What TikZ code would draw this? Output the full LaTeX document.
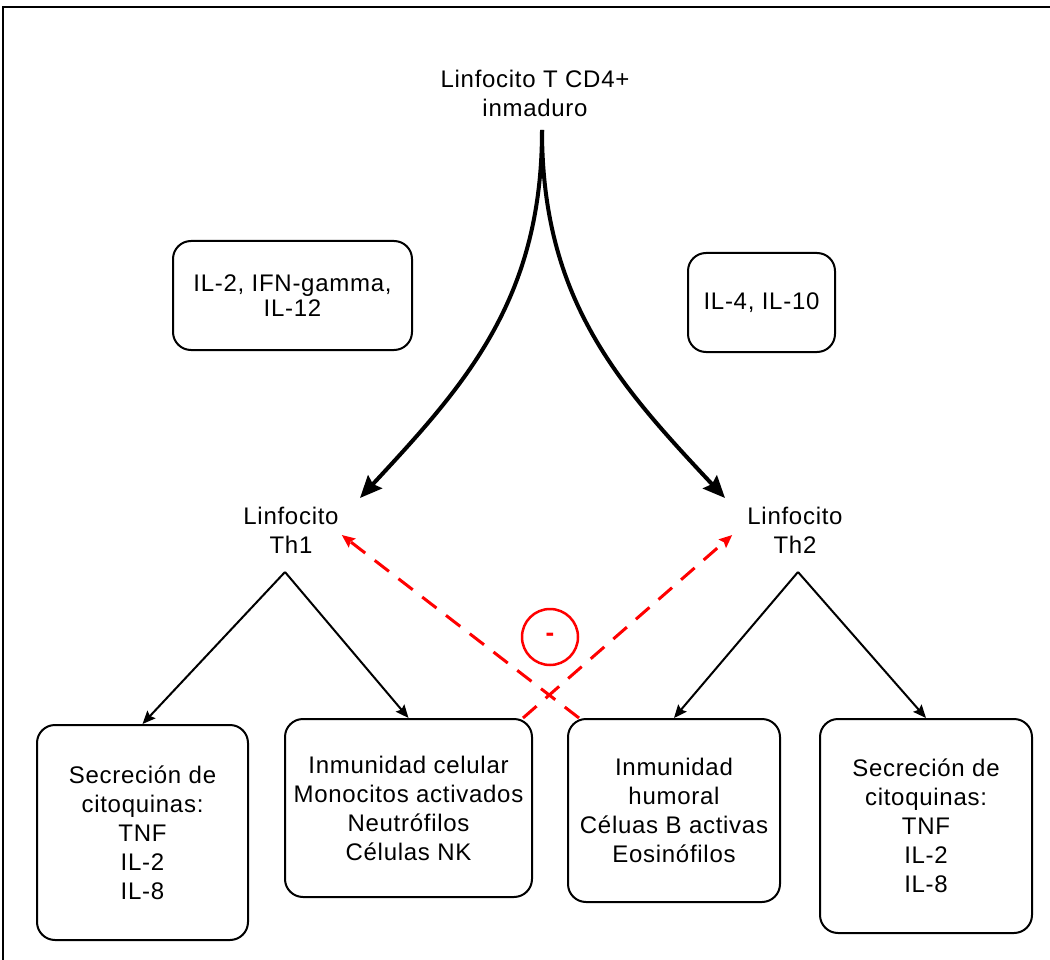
\documentclass[tikz,border=0pt]{standalone}
\usepackage{fontspec}
\setmainfont{Liberation Sans}[LetterSpace=3]
\usetikzlibrary{arrows.meta}

\begin{document}
\begin{tikzpicture}[x=1pt,y=-1pt,
  txt/.style={align=center, inner sep=0pt, font=\fontsize{24}{29}\selectfont},
  rbox/.style={draw, line width=2pt, rounded corners=18pt, align=center,
    inner sep=0pt, font=\fontsize{24}{29}\selectfont},
  diffarrow/.style={line width=4pt, -{Stealth[length=22pt,width=19pt,inset=3pt]}},
  childarrow/.style={line width=2pt, -{Stealth[length=13pt,width=11pt,inset=2pt]}},
  inhib/.style={red, line width=3pt, dash pattern=on 18pt off 12pt,
    -{Stealth[length=13pt,width=11pt,inset=2pt]}}
]
\useasboundingbox (0,0) rectangle (1050,960);

% frame
\draw[line width=2.5pt] (3,960) -- (3,7) -- (1050,7);

% cells
\node[txt] (cd4) at (535,93) {Linfocito T CD4+\\inmaduro};
\node[txt] (th1) at (291,530) {Linfocito\\Th1};
\node[txt] (th2) at (795,530) {Linfocito\\Th2};

% cytokine boxes
\node[rbox, minimum width=239pt, minimum height=109pt,
  font=\fontsize{24}{25}\selectfont] (il2) at (292.5,295.5) {IL-2, IFN-gamma,\\IL-12};
\node[rbox, minimum width=147pt, minimum height=99pt] (il4) at (761.5,302.5) {IL-4, IL-10};

% effector boxes
\node[rbox, minimum width=211pt, minimum height=215pt] (secA) at (142.5,832.5)
  {Secreción de\\citoquinas:\\TNF\\IL-2\\IL-8};
\node[rbox, minimum width=247pt, minimum height=178pt] (celular) at (408.5,808)
  {Inmunidad celular\\Monocitos activados\\Neutrófilos\\Células NK};
\node[rbox, minimum width=212pt, minimum height=183pt] (humoral) at (674,810.5)
  {Inmunidad\\humoral\\Céluas B activas\\Eosinófilos};
\node[rbox, minimum width=212pt, minimum height=214pt] (secB) at (926,826)
  {Secreción de\\citoquinas:\\TNF\\IL-2\\IL-8};

% differentiation
\coordinate (apex) at (542,130);
\coordinate (th1in) at (360,498);
\coordinate (th2in) at (725,498);
\draw[diffarrow] (apex) .. controls (542,300) and (465,385) .. (th1in);
\draw[diffarrow] (apex) .. controls (542,300) and (619,385) .. (th2in);

% effector branches
\coordinate (b1) at (285,572);
\coordinate (b2) at (798,572);
\draw[childarrow] (b1) -- (secA.north);
\draw[childarrow] (b1) -- (celular.north);
\draw[childarrow] (b2) -- (humoral.north);
\draw[childarrow] (b2) -- (secB.north);

% cross inhibition
\draw[inhib] ([xshift=12pt]humoral.north west) -- ([shift={(3pt,-5pt)}]th1.east);
\draw[inhib] ([xshift=-10pt]celular.north east) -- ([shift={(-15pt,-5pt)}]th2.west);
\node[circle, draw=red, line width=2.5pt, minimum size=56pt, inner sep=0pt,
  text=red, font=\fontsize{26}{29}\selectfont\bfseries] (minus) at (550,637) {-};
\end{tikzpicture}
\end{document}
